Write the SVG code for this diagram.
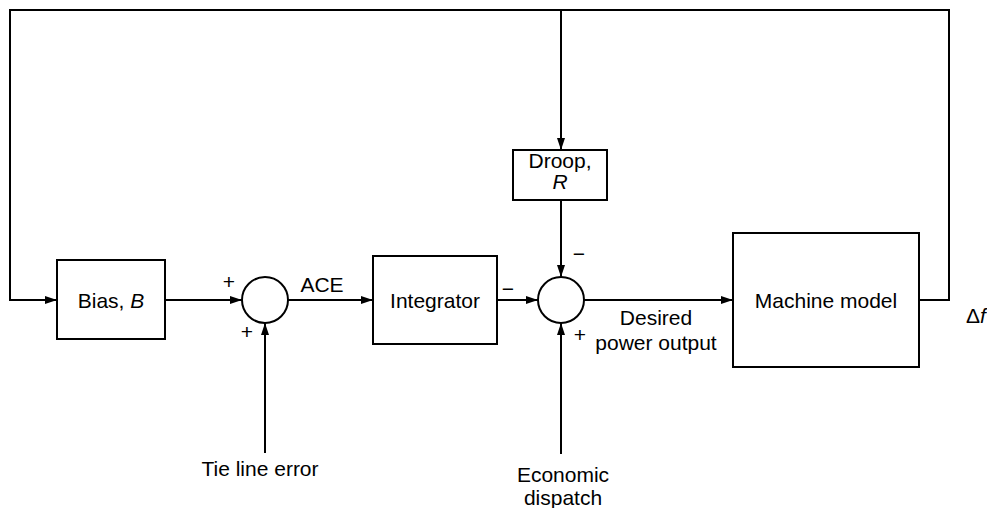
<svg xmlns="http://www.w3.org/2000/svg" width="987" height="508" viewBox="0 0 987 508">
<defs>
<marker id="arr" viewBox="0 0 12 8" refX="12" refY="4" markerWidth="12" markerHeight="8" markerUnits="userSpaceOnUse" orient="auto">
<path d="M0,0 L12,4 L0,8 Z" fill="#000"/>
</marker>
</defs>
<style>
.box{fill:#fff;stroke:#000;stroke-width:2}
.ln{fill:none;stroke:#000;stroke-width:2}
.t{font-family:"Liberation Sans",Arial,sans-serif;font-size:21px;fill:#000;text-anchor:middle}
.s{font-family:"Liberation Sans",Arial,sans-serif;font-size:21px;fill:#000;text-anchor:middle}
</style>
<g id="connectors">
<path class="ln" d="M919,300 H949 V10 H10 V300 H57" marker-end="url(#arr)"/>
<path class="ln" d="M561,10 V150" marker-end="url(#arr)"/>
<path class="ln" d="M165,300 H242" marker-end="url(#arr)"/>
<path class="ln" d="M265,453 V323" marker-end="url(#arr)"/>
<path class="ln" d="M288,300 H373" marker-end="url(#arr)"/>
<path class="ln" d="M497,300 H538" marker-end="url(#arr)"/>
<path class="ln" d="M561,200 V277" marker-end="url(#arr)"/>
<path class="ln" d="M561,454 V323" marker-end="url(#arr)"/>
<path class="ln" d="M584,300 H733" marker-end="url(#arr)"/>
</g>
<g id="bias">
<rect class="box" x="57" y="260" width="108" height="79"/>
<text class="t" x="111" y="308">Bias, <tspan font-style="italic">B</tspan></text>
</g>
<g id="sum1">
<circle class="box" cx="265" cy="300" r="23"/>
<text class="s" x="229" y="289">+</text>
<text class="s" x="247" y="339">+</text>
</g>
<text class="t" x="322" y="292">ACE</text>
<g id="integrator">
<rect class="box" x="373" y="256" width="124" height="88"/>
<text class="t" x="435" y="308">Integrator</text>
</g>
<g id="droop">
<rect class="box" x="513" y="150" width="94" height="50"/>
<text class="t" x="560" y="168">Droop,</text>
<text class="t" x="560" y="189" font-style="italic">R</text>
</g>
<g id="sum2">
<circle class="box" cx="561" cy="300" r="23"/>
<text class="s" x="508" y="296">−</text>
<text class="s" x="579" y="261">−</text>
<text class="s" x="580" y="342">+</text>
</g>
<text class="t" x="656" y="325">Desired</text>
<text class="t" x="656" y="350">power output</text>
<g id="machine">
<rect class="box" x="733" y="233" width="186" height="134"/>
<text class="t" x="826" y="308">Machine model</text>
</g>
<text class="t" x="976" y="323">Δ<tspan font-style="italic">f</tspan></text>
<g id="tieline">
<text class="t" x="260" y="476">Tie line error</text>
</g>
<g id="econ">
<text class="t" x="563" y="482">Economic</text>
<text class="t" x="563" y="505">dispatch</text>
</g>
</svg>
